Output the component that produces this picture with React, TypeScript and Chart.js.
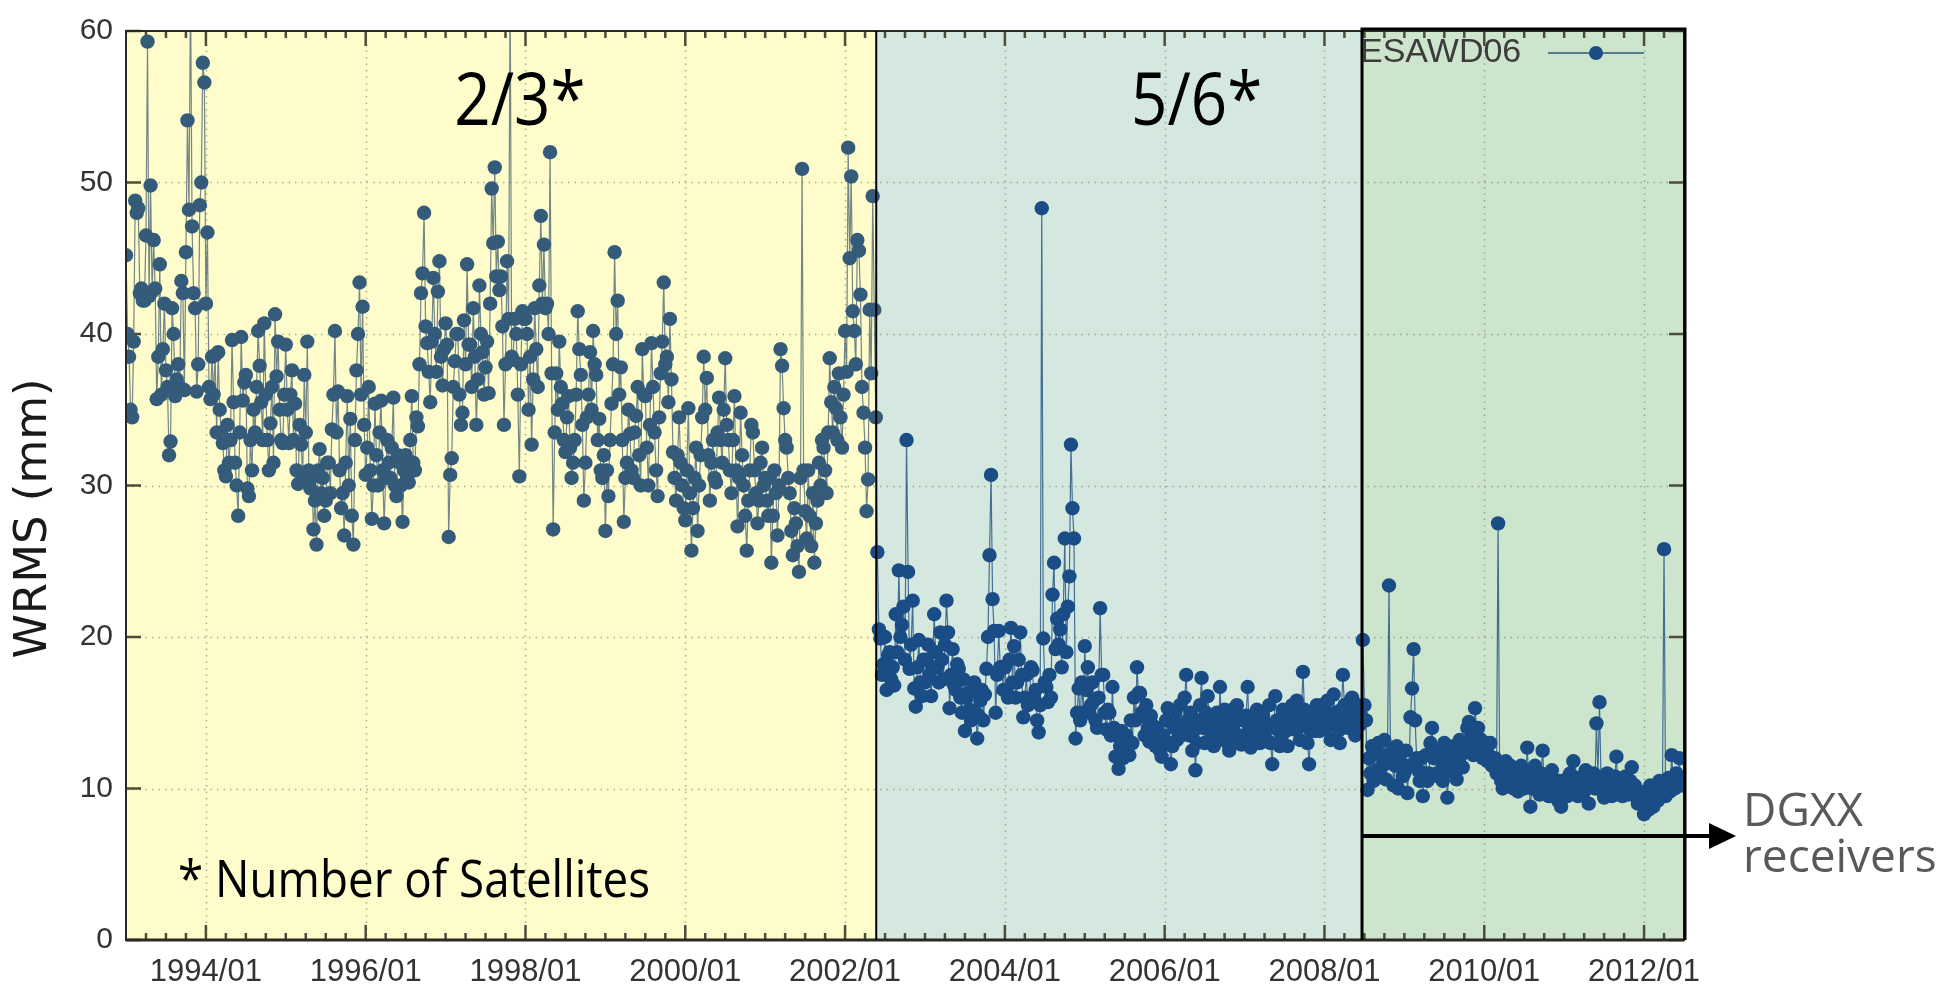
import { useEffect, useRef } from 'react';
import { Chart, registerables } from 'chart.js';

Chart.register(...registerables);

const W = 1953;
const H = 993;

// ESAWD06 weekly WRMS (mm), grouped by year (week n of a year sits at year + n/52)
const SAMPLES_PER_YEAR = 52;
const w1993 = [45.2, 40.0, 38.5, 35.0, 34.5, 39.5, 48.8, 48.0, 48.3, 42.7, 43.0, 42.2, 42.2, 46.5, 59.3, 42.5, 49.8, 42.8, 46.2, 43.0, 35.7, 38.5, 44.6, 36.0, 39.0, 42.0, 37.6, 36.5, 32.0, 32.9, 41.7, 40.0, 35.9, 37.0, 38.0, 36.5, 43.5, 42.7, 36.3, 45.4, 54.1, 48.2, 63.0, 47.1, 42.7, 41.7, 36.2, 38.0, 48.5, 50.0, 57.9, 56.6];
const w1994 = [42.0, 46.7, 36.5, 35.7, 38.5, 36.0, 38.6, 33.5, 38.8, 35.0, 33.5, 32.8, 31.0, 30.6, 34.0, 31.5, 33.0, 39.6, 35.5, 31.5, 30.0, 28.0, 33.5, 39.8, 35.6, 36.8, 37.3, 29.8, 29.3, 33.0, 31.0, 35.0, 33.5, 36.5, 40.2, 37.9, 35.5, 33.0, 40.7, 36.0, 33.0, 31.0, 34.1, 36.5, 31.5, 41.3, 37.2, 39.5, 35.0, 33.0, 32.8, 36.0];
const w1995 = [39.3, 35.0, 32.8, 36.0, 37.6, 33.0, 35.4, 31.0, 30.1, 34.0, 32.7, 30.5, 37.3, 33.5, 39.5, 31.0, 29.8, 30.5, 27.1, 29.0, 26.1, 31.0, 32.4, 29.5, 30.5, 28.0, 29.0, 31.5, 31.5, 29.5, 33.7, 36.0, 40.2, 33.5, 36.2, 31.0, 28.5, 29.5, 26.7, 31.5, 35.9, 30.0, 34.4, 28.0, 26.1, 33.0, 37.6, 40.0, 43.4, 36.0, 41.8, 34.0];
const w1996 = [30.7, 32.5, 36.5, 31.0, 27.8, 30.0, 35.4, 32.0, 30.0, 33.5, 35.6, 31.0, 27.5, 30.5, 33.0, 31.5, 30.5, 32.5, 35.8, 30.0, 29.3, 32.0, 31.5, 30.0, 27.6, 31.0, 32.0, 30.5, 30.2, 33.0, 35.9, 31.5, 31.0, 34.5, 33.9, 38.0, 42.7, 44.0, 48.0, 40.5, 39.4, 37.5, 35.5, 39.5, 43.7, 40.0, 37.5, 42.8, 44.8, 38.5, 36.6, 39.0];
const w1997 = [40.7, 39.3, 26.6, 30.7, 31.8, 36.5, 38.2, 40.0, 40.0, 36.0, 34.0, 34.8, 40.9, 38.0, 44.6, 39.3, 39.3, 36.5, 41.7, 38.5, 34.0, 37.0, 43.2, 40.0, 38.8, 36.0, 37.8, 39.5, 36.1, 42.0, 49.6, 46.0, 51.0, 43.8, 46.1, 42.9, 43.8, 40.5, 34.0, 38.0, 44.8, 41.0, 63.0, 38.5, 38.3, 41.0, 40.0, 36.0, 30.6, 38.0, 41.5, 41.0];
const w1998 = [41.0, 40.0, 35.0, 38.5, 32.7, 37.0, 41.7, 39.0, 36.5, 43.2, 47.8, 42.0, 45.9, 41.7, 42.0, 40.0, 52.0, 37.4, 27.1, 33.5, 37.4, 35.0, 39.5, 36.5, 35.4, 33.0, 32.2, 34.5, 35.9, 32.5, 30.5, 31.5, 33.0, 36.0, 41.5, 39.0, 37.3, 34.0, 29.0, 31.5, 34.5, 36.0, 38.8, 35.0, 40.2, 38.0, 37.3, 33.0, 34.4, 31.0, 30.5, 32.0];
const w1999 = [27.0, 31.0, 29.3, 33.0, 35.4, 38.0, 45.4, 40.0, 42.2, 36.0, 37.8, 33.0, 27.6, 30.5, 31.5, 35.0, 33.4, 31.0, 30.5, 33.5, 34.6, 36.5, 32.0, 30.0, 39.0, 36.0, 35.9, 32.5, 30.0, 34.0, 39.4, 36.5, 33.5, 31.0, 29.3, 34.5, 37.4, 39.5, 43.4, 38.0, 38.5, 35.5, 41.0, 37.0, 32.2, 30.5, 29.0, 32.0, 34.5, 31.5, 30.0, 28.5];
const w2000 = [27.7, 31.0, 35.1, 29.5, 25.7, 28.5, 30.5, 32.5, 27.0, 30.0, 32.0, 34.5, 38.5, 35.0, 37.1, 32.0, 29.0, 31.5, 33.0, 30.5, 30.2, 33.5, 35.8, 33.0, 31.5, 35.0, 38.4, 34.0, 33.0, 31.0, 29.5, 33.0, 35.9, 31.0, 27.3, 30.5, 34.8, 32.0, 30.0, 28.0, 25.7, 29.0, 31.0, 34.0, 33.5, 31.0, 29.5, 27.5, 29.0, 31.5, 32.5, 30.0];
const w2001 = [30.5, 29.0, 28.0, 30.5, 24.9, 28.0, 31.0, 29.5, 26.7, 30.0, 39.0, 37.9, 35.1, 33.0, 32.5, 30.5, 29.5, 27.0, 25.4, 28.5, 27.5, 26.0, 24.3, 30.5, 50.9, 31.0, 28.3, 26.5, 31.0, 28.0, 26.0, 29.5, 24.9, 27.5, 29.0, 31.5, 30.0, 33.0, 32.5, 31.0, 29.5, 33.5, 38.4, 35.5, 33.5, 36.5, 35.1, 33.0, 37.4, 34.5, 32.5, 36.0];
const w2002 = [40.2, 37.5, 52.3, 45.0, 50.4, 41.5, 40.2, 38.0, 46.2, 45.5, 42.6, 36.5, 34.8, 32.5, 28.3, 30.4, 41.6, 37.4, 49.1, 41.6, 34.5, 25.6, 20.5, 19.9, 17.5, 18.2, 20.0, 16.5, 18.8, 19.0, 17.2, 18.0, 16.8, 21.5, 19.0, 24.4, 20.0, 20.8, 22.0, 18.5, 33.0, 24.3, 17.9, 19.5, 22.4, 16.6, 15.4, 18.0, 19.8, 17.0, 16.1, 18.5];
const w2003 = [17.0, 18.5, 19.5, 17.5, 16.1, 18.0, 21.5, 19.0, 18.0, 17.0, 20.3, 18.5, 17.2, 19.5, 22.4, 20.3, 15.3, 17.5, 19.2, 16.8, 16.5, 18.2, 17.9, 16.0, 15.0, 17.2, 13.8, 16.0, 16.3, 15.2, 14.5, 16.5, 17.0, 15.0, 13.3, 14.8, 15.8, 16.5, 14.5, 16.2, 17.9, 20.0, 25.4, 30.7, 22.5, 20.4, 15.0, 17.5, 20.4, 18.0, 18.0, 16.5];
const w2004 = [18.0, 16.5, 16.0, 18.5, 20.6, 17.0, 19.4, 16.0, 17.0, 18.5, 20.3, 17.5, 14.7, 16.0, 17.5, 15.5, 15.8, 18.0, 17.8, 16.0, 16.5, 14.5, 13.7, 15.5, 48.3, 19.9, 17.0, 16.7, 15.7, 17.5, 16.0, 22.8, 24.9, 19.2, 21.2, 19.5, 20.5, 18.0, 21.5, 26.5, 19.0, 22.0, 24.0, 32.7, 28.5, 26.5, 13.3, 15.0, 16.6, 14.5, 17.0, 15.0];
const w2005 = [19.4, 16.5, 18.0, 15.0, 15.5, 17.0, 15.8, 14.5, 14.0, 16.0, 21.9, 17.5, 17.5, 15.0, 13.9, 15.2, 15.0, 13.5, 16.7, 14.0, 12.1, 13.5, 11.3, 12.8, 13.8, 12.0, 12.5, 13.5, 13.1, 12.2, 14.5, 13.0, 16.0, 14.5, 18.0, 16.3, 16.3, 15.0, 14.8, 13.5, 15.5, 14.0, 13.1, 14.8, 14.2, 13.0, 12.8, 14.0, 13.5, 12.5, 12.1, 13.5];
const w2006 = [13.0, 14.5, 15.3, 13.0, 11.6, 12.8, 14.0, 15.0, 13.2, 14.2, 15.5, 13.5, 14.0, 16.0, 17.5, 14.5, 13.5, 15.0, 12.5, 13.8, 11.2, 13.0, 14.5, 15.5, 17.3, 14.0, 13.0, 15.0, 16.1, 14.8, 14.2, 13.5, 12.8, 14.0, 15.0, 13.2, 16.7, 14.5, 13.8, 15.2, 14.5, 13.0, 12.5, 14.2, 15.2, 13.8, 13.6, 15.5, 14.8, 13.2, 12.9, 14.5];
const w2007 = [13.5, 14.8, 16.7, 14.0, 12.7, 13.8, 14.5, 13.2, 15.2, 14.0, 13.0, 15.0, 14.8, 13.5, 13.2, 14.2, 15.5, 13.0, 11.6, 14.0, 16.1, 14.5, 14.0, 12.8, 13.5, 15.2, 15.0, 13.8, 12.8, 14.5, 14.6, 15.5, 13.9, 14.8, 15.8, 14.0, 13.2, 15.0, 17.7, 15.2, 14.5, 13.0, 11.6, 13.8, 15.0, 14.2, 13.8, 15.5, 14.9, 13.8, 15.5, 14.5];
const w2008 = [14.0, 15.0, 15.8, 14.2, 13.2, 14.8, 16.2, 15.0, 14.5, 13.8, 13.0, 15.2, 17.5, 15.5, 15.0, 14.0, 14.2, 15.8, 16.0, 14.5, 13.5, 15.0, 15.5, 14.2, 14.8, 19.8, 15.5, 14.5, 9.9, 12.0, 11.0, 12.8, 10.5, 12.5, 11.2, 13.0, 10.8, 12.2, 11.5, 13.2, 10.6, 12.0, 23.4, 11.8, 12.5, 10.2, 11.5, 12.8, 10.0, 11.8, 12.5, 10.8];
const w2009 = [11.0, 12.5, 9.7, 11.5, 14.7, 16.6, 19.2, 14.5, 12.0, 11.2, 10.5, 12.0, 9.5, 11.0, 12.2, 10.5, 11.0, 13.0, 14.0, 12.0, 12.5, 11.0, 10.8, 12.2, 11.8, 10.5, 13.0, 12.0, 9.4, 11.2, 11.5, 12.5, 12.8, 11.0, 10.6, 12.0, 13.2, 12.2, 11.4, 13.0, 12.8, 14.0, 14.4, 13.0, 13.5, 12.2, 15.3, 14.0, 14.0, 12.5, 13.2, 12.0];
const w2010 = [12.5, 13.0, 11.8, 12.2, 13.0, 11.5, 11.5, 12.0, 11.0, 27.5, 11.0, 10.5, 10.0, 11.5, 11.8, 10.8, 10.5, 11.5, 11.2, 10.0, 10.2, 11.0, 9.8, 10.5, 11.5, 10.2, 10.0, 11.0, 12.7, 10.5, 8.8, 10.0, 10.8, 11.5, 11.0, 10.0, 9.6, 11.0, 12.5, 10.5, 10.4, 9.8, 9.5, 10.8, 11.2, 10.2, 10.0, 9.5, 9.2, 10.5, 8.8, 10.0];
const w2011 = [10.5, 10.0, 9.5, 10.8, 11.0, 10.2, 11.8, 10.5, 10.0, 9.5, 9.8, 10.5, 10.8, 9.8, 11.2, 10.0, 9.0, 10.5, 10.2, 11.0, 10.0, 14.3, 10.8, 15.7, 10.5, 9.8, 9.4, 10.2, 11.0, 10.5, 10.0, 9.5, 9.6, 10.8, 12.1, 10.2, 10.4, 9.8, 9.5, 10.2, 10.8, 9.6, 9.8, 10.5, 11.4, 10.0, 10.2, 9.4, 9.0, 9.8, 9.6, 9.2];
const w2012 = [8.3, 9.0, 9.5, 8.6, 10.2, 9.4, 8.8, 10.0, 9.8, 9.2, 10.5, 9.6, 10.0, 25.8, 9.5, 10.2, 10.7, 9.8, 12.2, 10.5, 10.0, 11.0, 10.5, 12.0, 10.2];

const SERIES_BY_YEAR: [number, number[]][] = [
  [1993, w1993], [1994, w1994], [1995, w1995], [1996, w1996], [1997, w1997],
  [1998, w1998], [1999, w1999], [2000, w2000], [2001, w2001], [2002, w2002],
  [2003, w2003], [2004, w2004], [2005, w2005], [2006, w2006], [2007, w2007],
  [2008, w2008], [2009, w2009], [2010, w2010], [2011, w2011], [2012, w2012],
];

const X_TICKS = [1994, 1996, 1998, 2000, 2002, 2004, 2006, 2008, 2010, 2012];
const Y_TICKS = [0, 10, 20, 30, 40, 50, 60];
const X_MIN = 1993;
const X_MAX = 2012.5;

// Constellation periods: band edges, fills and satellite-count labels
const ZONE_BOUNDS = [1993, 2002.39, 2008.47, 2012.5];
const ZONE_FILLS = ['#fdfcca', '#d5e8df', '#cde4cd'];
const ZONE_LABELS = ['2/3*', '5/6*'];
const ZONE_LABEL_CENTERS = [1997.93, 2006.4];

const POINT_OLD = '#355b7a';
const POINT_NEW = '#1a4c85';
const LINE_OLD = 'rgba(70,95,110,0.75)';
const LINE_NEW = 'rgba(30,80,130,0.8)';

const TICK_FONT = "'Liberation Sans', Arial, sans-serif";
const NOTE_FONT = "'Open Sans', 'Noto Sans', sans-serif";

const decor = {
  id: 'decor',
  beforeDatasetsDraw(chart: any) {
    const { ctx, chartArea: a, scales } = chart;
    const x = scales.x;
    const y = scales.y;
    ctx.save();
    // shaded periods
    for (let i = 0; i < 3; i++) {
      const x0 = x.getPixelForValue(ZONE_BOUNDS[i]);
      const x1 = x.getPixelForValue(ZONE_BOUNDS[i + 1]);
      ctx.fillStyle = ZONE_FILLS[i];
      ctx.fillRect(x0, a.top, x1 - x0, a.bottom - a.top);
    }
    // dotted grid
    ctx.strokeStyle = 'rgba(110,115,100,0.55)';
    ctx.lineWidth = 1.5;
    ctx.setLineDash([1.5, 5]);
    ctx.beginPath();
    X_TICKS.forEach((t) => {
      const px = Math.round(x.getPixelForValue(t)) + 0.5;
      ctx.moveTo(px, a.top);
      ctx.lineTo(px, a.bottom);
    });
    Y_TICKS.forEach((t) => {
      if (t === 0 || t === 60) return;
      const py = Math.round(y.getPixelForValue(t)) + 0.5;
      ctx.moveTo(a.left, py);
      ctx.lineTo(a.right, py);
    });
    ctx.stroke();
    ctx.setLineDash([]);
    // inward tick marks: quarters on x, majors every two years
    ctx.strokeStyle = '#4d4d3a';
    ctx.lineWidth = 2.5;
    ctx.beginPath();
    for (let q = Math.ceil(X_MIN * 4); q <= X_MAX * 4; q++) {
      const v = q / 4;
      if (v <= X_MIN || v >= X_MAX) continue;
      const len = q % 8 === 0 ? 15 : 7;
      const px = x.getPixelForValue(v);
      ctx.moveTo(px, a.bottom);
      ctx.lineTo(px, a.bottom - len);
      ctx.moveTo(px, a.top);
      ctx.lineTo(px, a.top + len);
    }
    Y_TICKS.forEach((t) => {
      const py = y.getPixelForValue(t);
      ctx.moveTo(a.left, py);
      ctx.lineTo(a.left + 15, py);
      ctx.moveTo(a.right, py);
      ctx.lineTo(a.right - 15, py);
    });
    ctx.stroke();
    ctx.restore();
  },
  afterDatasetsDraw(chart: any) {
    const { ctx, chartArea: a, scales } = chart;
    const x = scales.x;
    ctx.save();
    // frame
    ctx.strokeStyle = '#2a2a22';
    ctx.lineWidth = 2;
    ctx.strokeRect(a.left, a.top, a.right - a.left, a.bottom - a.top);
    ctx.lineWidth = 3;
    ctx.beginPath();
    ctx.moveTo(a.left, a.bottom);
    ctx.lineTo(a.right, a.bottom);
    ctx.stroke();
    // period separators
    const d1 = x.getPixelForValue(ZONE_BOUNDS[1]);
    const d2 = x.getPixelForValue(ZONE_BOUNDS[2]);
    ctx.strokeStyle = '#000';
    ctx.lineWidth = 2;
    ctx.beginPath();
    ctx.moveTo(d1, a.top);
    ctx.lineTo(d1, a.bottom);
    ctx.stroke();
    ctx.lineWidth = 3;
    ctx.beginPath();
    ctx.moveTo(d2, a.bottom);
    ctx.lineTo(d2, a.top - 2);
    ctx.lineTo(a.right + 1, a.top - 2);
    ctx.lineTo(a.right + 1, a.bottom);
    ctx.stroke();

    // satellite-count labels
    ctx.fillStyle = '#000';
    ctx.textBaseline = 'alphabetic';
    ZONE_LABELS.forEach((label, i) => {
      const cx = x.getPixelForValue(ZONE_LABEL_CENTERS[i]);
      ctx.save();
      ctx.translate(cx, 125);
      ctx.scale(0.86, 1);
      ctx.font = `74px ${NOTE_FONT}`;
      ctx.textAlign = 'center';
      ctx.fillText(label, 0, 0);
      ctx.restore();
    });
    ctx.save();
    ctx.translate(178, 897);
    ctx.scale(0.88, 1);
    ctx.font = `52px ${NOTE_FONT}`;
    ctx.textAlign = 'left';
    ctx.fillText('* Number of Satellites', 0, 0);
    ctx.restore();

    // legend
    ctx.font = `34px ${TICK_FONT}`;
    ctx.fillStyle = '#3c3c3c';
    ctx.textAlign = 'left';
    ctx.textBaseline = 'middle';
    ctx.fillText('ESAWD06', d2 - 2, 53);
    ctx.strokeStyle = '#2e5878';
    ctx.lineWidth = 1.5;
    ctx.beginPath();
    ctx.moveTo(1548, 53);
    ctx.lineTo(1644, 53);
    ctx.stroke();
    ctx.fillStyle = POINT_NEW;
    ctx.beginPath();
    ctx.arc(1596, 53, 7, 0, Math.PI * 2);
    ctx.fill();
    ctx.restore();
  },
  afterDraw(chart: any) {
    const { ctx, chartArea: a, scales } = chart;
    const d2 = scales.x.getPixelForValue(ZONE_BOUNDS[2]);
    ctx.save();
    // DGXX receivers arrow
    ctx.strokeStyle = '#000';
    ctx.fillStyle = '#000';
    ctx.lineWidth = 4;
    ctx.beginPath();
    ctx.moveTo(d2, 836);
    ctx.lineTo(1712, 836);
    ctx.stroke();
    ctx.beginPath();
    ctx.moveTo(1709, 823);
    ctx.lineTo(1736, 836);
    ctx.lineTo(1709, 849);
    ctx.closePath();
    ctx.fill();
    ctx.fillStyle = '#595959';
    ctx.font = `46px ${NOTE_FONT}`;
    ctx.textAlign = 'left';
    ctx.textBaseline = 'alphabetic';
    ctx.fillText('DGXX', 1743, 826);
    ctx.fillText('receivers', 1743, 872);

    // y-axis title
    ctx.translate(34, (a.top + a.bottom) / 2 + 33);
    ctx.rotate(-Math.PI / 2);
    ctx.fillStyle = '#1a1a1a';
    ctx.font = "45px 'DejaVu Sans', Verdana, sans-serif";
    ctx.textAlign = 'center';
    ctx.textBaseline = 'middle';
    ctx.fillText('WRMS (mm)', 0, 0);
    ctx.restore();
  },
};

export default function App() {
  const canvasRef = useRef<HTMLCanvasElement | null>(null);

  useEffect(() => {
    const canvas = canvasRef.current;
    if (!canvas) return;
    const points = SERIES_BY_YEAR.flatMap(([year, vals]) =>
      vals.map((v, i) => ({ x: year + i / SAMPLES_PER_YEAR, y: v }))
    );
    const chart = new Chart(canvas, {
      type: 'scatter',
      data: {
        datasets: [
          {
            label: 'ESAWD06',
            data: points,
            showLine: true,
            borderWidth: 1.2,
            borderColor: LINE_NEW,
            segment: {
              borderColor: (c: any) => (c.p0.parsed.x < ZONE_BOUNDS[1] ? LINE_OLD : LINE_NEW),
            },
            pointRadius: 7.2,
            pointBorderWidth: 0,
            pointBackgroundColor: (c: any) =>
              c.raw && c.raw.x < ZONE_BOUNDS[1] ? POINT_OLD : POINT_NEW,
          } as any,
        ],
      },
      options: {
        responsive: false,
        animation: false,
        events: [],
        layout: { padding: { left: 0, top: 21, right: 269, bottom: 0 } },
        plugins: { legend: { display: false }, tooltip: { enabled: false } },
        scales: {
          x: {
            type: 'linear',
            min: X_MIN,
            max: X_MAX,
            afterFit: (s: any) => {
              s.height = 53;
            },
            grid: { display: false, drawTicks: false },
            border: { display: false },
            ticks: {
              stepSize: 2,
              includeBounds: false,
              autoSkip: false,
              maxRotation: 0,
              padding: 14,
              color: '#333',
              font: { size: 31, family: TICK_FONT },
              callback: (v: any) => `${v}/01`,
            },
          },
          y: {
            min: 0,
            max: 60,
            afterFit: (s: any) => {
              s.width = 126;
            },
            grid: { display: false, drawTicks: false },
            border: { display: false },
            ticks: {
              stepSize: 10,
              padding: 13,
              color: '#333',
              font: { size: 30, family: TICK_FONT },
            },
          },
        },
      } as any,
      plugins: [decor],
    });
    return () => chart.destroy();
  }, []);

  return (
    <div style={{ position: 'absolute', left: 0, top: 0, width: W, height: H, background: '#fff' }}>
      <canvas ref={canvasRef} width={W} height={H} style={{ display: 'block' }} />
    </div>
  );
}
